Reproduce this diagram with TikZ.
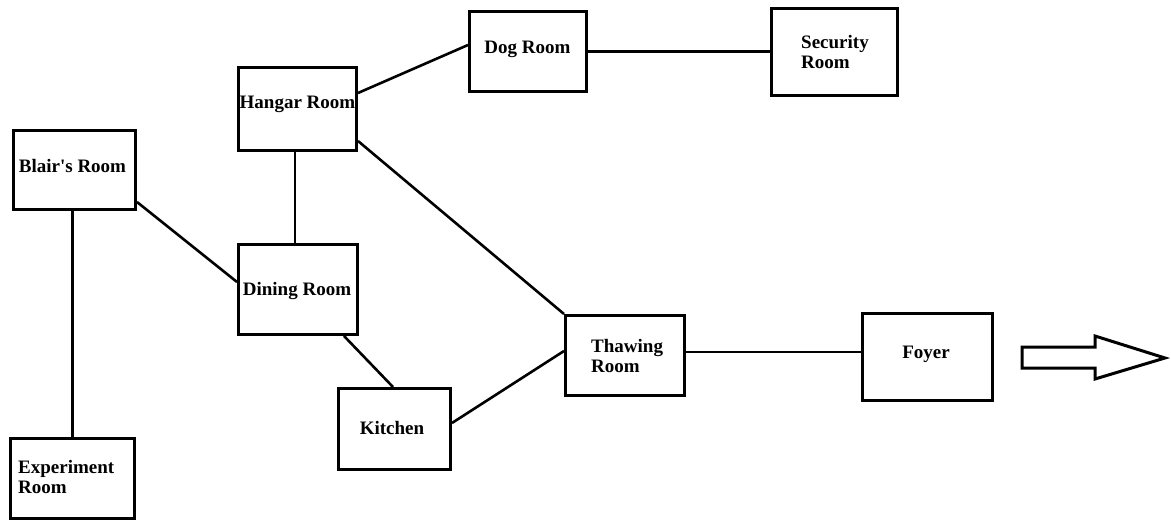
\documentclass[tikz,border=0pt]{standalone}
\usepackage{fontspec}
\setmainfont{Liberation Serif}
\begin{document}
\begin{tikzpicture}[x=1pt,y=-1pt,
  room/.style={draw=black,line width=3pt,rectangle,inner sep=0pt,fill=white},
  lbl/.style={font=\fontsize{19}{20}\selectfont\bfseries,inner sep=0pt},
  link/.style={draw=black,line width=2.6pt}]
\fill[white] (0,0) rectangle (1171,527);
\useasboundingbox (0,0) rectangle (1171,527);
% boxes
\node[room,minimum width=122pt,minimum height=79pt] (blair) at (74.5,170) {};
\node[room,minimum width=124pt,minimum height=80pt] (exp) at (72.5,478.5) {};
\node[room,minimum width=118pt,minimum height=83pt] (hangar) at (297.5,109) {};
\node[room,minimum width=117pt,minimum height=80pt] (dog) at (528,51.5) {};
\node[room,minimum width=126pt,minimum height=87pt] (security) at (834.5,52) {};
\node[room,minimum width=119pt,minimum height=90pt] (dining) at (298,289.5) {};
\node[room,minimum width=112pt,minimum height=81pt] (kitchen) at (394.5,429) {};
\node[room,minimum width=119pt,minimum height=80pt] (thawing) at (625,355.5) {};
\node[room,minimum width=130pt,minimum height=87pt] (foyer) at (927.5,357) {};
% labels
\node[lbl,anchor=base] (blairt) at (72.5,172) {Blair\textquotesingle s Room};
\node[lbl,anchor=base west] (expt1) at (18,473) {Experiment};
\node[lbl,anchor=base west] (expt2) at (18,493) {Room};
\node[lbl,anchor=base] (hangart) at (297.5,108) {Hangar Room};
\node[lbl,anchor=base] (dogt) at (527.5,54) {Dog Room};
\node[lbl,anchor=base west] (sect1) at (801,49) {Security};
\node[lbl,anchor=base west] (sect2) at (801,69) {Room};
\node[lbl,anchor=base] (diningt) at (297,295) {Dining Room};
\node[lbl,anchor=base] (kitchent) at (392,434) {Kitchen};
\node[lbl,anchor=base west] (thawt1) at (591,352) {Thawing};
\node[lbl,anchor=base west] (thawt2) at (591,372) {Room};
\node[lbl,anchor=base] (foyert) at (926,358) {Foyer};
% connectors
\draw[link] (exp.north |- blair.south) -- (exp.north);
\draw[link] ([yshift=-32pt]blair.east) -- ([yshift=7.5pt]dining.west);
\draw[link] ([xshift=-2.5pt]hangar.south) -- ([xshift=-3pt]dining.north);
\draw[link] ([yshift=16pt]hangar.east) -- ([yshift=6.5pt]dog.west);
\draw[link] (dog.east) -- (dog.east -| security.west);
\draw[link] ([yshift=-32pt]hangar.east) -- (thawing.north west);
\draw[link] ([xshift=46pt]dining.south) -- ([xshift=-1.5pt]kitchen.north);
\draw[link] ([yshift=6pt]kitchen.east) -- ([yshift=4.5pt]thawing.west);
\draw[link] ([yshift=3.5pt]thawing.east) -- ([yshift=3.5pt]thawing.east -| foyer.west);
% exit arrow
\draw[line width=3pt,line join=miter,fill=white] (1022,347) -- (1095,347) -- (1095,336) -- (1165,358) -- (1095,379) -- (1095,368) -- (1022,368) -- cycle;
\end{tikzpicture}
\end{document}
